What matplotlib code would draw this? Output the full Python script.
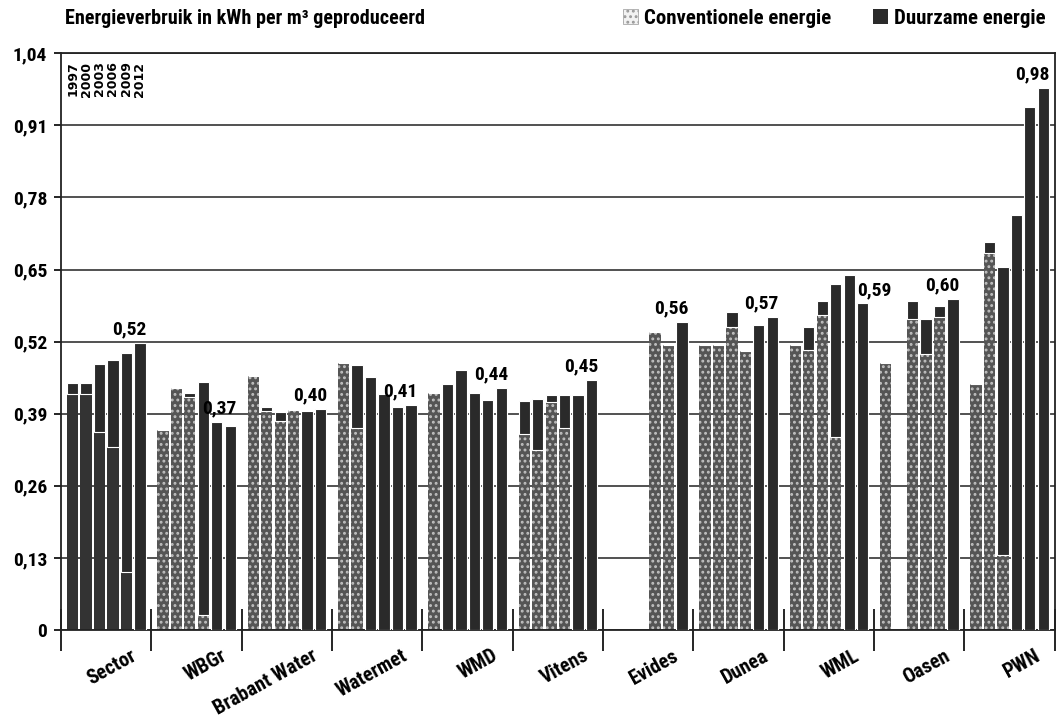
import matplotlib
matplotlib.use('Agg')
import matplotlib.pyplot as plt
from matplotlib.patches import Patch
from matplotlib import font_manager
import numpy as np

nan = np.nan

companies = ['Sector', 'WBGr', 'Brabant Water', 'Watermet', 'WMD', 'Vitens',
             'Evides', 'Dunea', 'WML', 'Oasen', 'PWN']
years = ['1997', '2000', '2003', '2006', '2009', '2012']

# kWh per m3, conventional (bottom) and renewable (top) part of each bar
conv_1997 = [0.425, 0.360, 0.458, 0.481, 0.427, 0.354, nan, 0.514, 0.514, 0.481, 0.443]
ren_1997 = [0.020, 0.0, 0.0, 0.0, 0.0, 0.059, nan, 0.0, 0.0, 0.0, 0.0]
conv_2000 = [0.425, 0.437, 0.395, 0.365, 0.0, 0.324, nan, 0.514, 0.505, nan, 0.679]
ren_2000 = [0.020, 0.0, 0.008, 0.113, 0.443, 0.092, nan, 0.0, 0.042, nan, 0.020]
conv_2003 = [0.357, 0.420, 0.377, 0.0, 0.0, 0.412, nan, 0.547, 0.568, 0.560, 0.135]
ren_2003 = [0.122, 0.007, 0.017, 0.457, 0.469, 0.012, nan, 0.027, 0.026, 0.033, 0.520]
conv_2006 = [0.330, 0.027, 0.397, 0.0, 0.0, 0.365, 0.537, 0.503, 0.348, 0.498, 0.0]
ren_2006 = [0.157, 0.420, 0.0, 0.425, 0.427, 0.059, 0.0, 0.0, 0.276, 0.062, 0.748]
conv_2009 = [0.105, 0.0, 0.0, 0.0, 0.0, 0.0, 0.514, 0.0, 0.0, 0.564, 0.0]
ren_2009 = [0.395, 0.375, 0.395, 0.403, 0.415, 0.424, 0.0, 0.550, 0.640, 0.020, 0.943]
conv_2012 = [0.0, 0.0, 0.0, 0.0, 0.0, 0.0, 0.0, 0.0, 0.0, 0.0, 0.0]
ren_2012 = [0.517, 0.368, 0.398, 0.406, 0.437, 0.451, 0.556, 0.565, 0.589, 0.597, 0.977]

labels_2012 = ['0,52', '0,37', '0,40', '0,41', '0,44', '0,45', '0,56', '0,57', '0,59', '0,60', '0,98']
label_align = ['right'] * 8 + ['left', 'right', 'right']

conv = [conv_1997, conv_2000, conv_2003, conv_2006, conv_2009, conv_2012]
ren = [ren_1997, ren_2000, ren_2003, ren_2006, ren_2009, ren_2012]

installed = {f.name for f in font_manager.fontManager.ttflist}
FONT = [f for f in ['Liberation Sans Narrow', 'DejaVu Sans Condensed', 'Roboto Condensed',
                    'Open Sans Condensed'] if f in installed] + ['DejaVu Sans']
NARROW = FONT[0] != 'DejaVu Sans'
plt.rcParams['font.family'] = FONT
plt.rcParams['font.weight'] = 'bold'
plt.rcParams['hatch.linewidth'] = 1.3
if not NARROW:
    plt.rcParams['font.stretch'] = 'condensed'

fs = 13 if NARROW else 11

DARK = '#2a2a2a'
CONV = '#555555'
SECTOR = '#333333'

fig = plt.figure(figsize=(10.58, 7.2), dpi=100)
ax = fig.add_axes([0.0577, 0.125, 0.9393, 0.801])

step = 0.149
width = 0.125
x0 = np.arange(len(companies))

for j in range(len(years)):
    x = x0 + (j - 2.5) * step
    bars = ax.bar(x, conv[j], width=width, color=CONV, edgecolor='#c0c0c0',
                  hatch='...', linewidth=0, zorder=2)
    bars[0].set_facecolor(SECTOR)
    bars[0].set_hatch(None)
    ax.bar(x, ren[j], width=width, bottom=conv[j], color=DARK,
           edgecolor='white', linewidth=0.8, zorder=3)
    # year label above the first (Sector) group
    ax.text(x[0], 1.025, years[j], rotation=90, ha='center', va='top',
            fontsize=9, fontweight='bold', family='DejaVu Sans')

# value labels for 2012
x12 = x0 + 2.5 * step
for i, lab in enumerate(labels_2012):
    top = max(ren_2012[i], ren_2009[i] if i == 1 else 0)
    if label_align[i] == 'right':
        xt = x12[i] + width / 2 + 0.01
    else:
        xt = x12[i] - width / 2
    ax.text(xt, top + 0.008, lab, ha=label_align[i], va='bottom',
            fontsize=fs + 1, fontweight='bold', zorder=5)

ax.set_ylim(0, 1.04)
ax.set_xlim(-0.5, len(companies) - 0.5)
yt = np.arange(0, 1.05, 0.13)
ax.set_yticks(yt)
ax.set_yticklabels(['0'] + [('%.2f' % v).replace('.', ',') for v in yt[1:]], fontsize=fs + 1)
ax.yaxis.grid(True, color='#333333', linewidth=1.2, zorder=0)
ax.set_axisbelow(True)
ax.tick_params(axis='y', length=5, width=1.2, pad=5)

ax.set_xticks(np.arange(-0.5, len(companies), 1.0))
ax.set_xticklabels([])
ax.tick_params(axis='x', direction='inout', length=30, width=1.2)

for i, name in enumerate(companies):
    ax.text(i + 0.27, -0.028, name, transform=ax.get_xaxis_transform(),
            ha='right', va='top', rotation=29, rotation_mode='anchor',
            fontsize=fs + 1.5, fontweight='bold')

for s in ax.spines.values():
    s.set_linewidth(1.3)
    s.set_color('#222222')

fig.text(0.061, 0.975, 'Energieverbruik in kWh per m\u00b3 geproduceerd',
         fontsize=fs + 1.5, fontweight='bold', va='center', ha='left')

handles = [Patch(facecolor='#f2f2f2', edgecolor='#999999', hatch='...', linewidth=0.5,
                 label='Conventionele energie'),
           Patch(facecolor=DARK, label='Duurzame energie')]
fig.legend(handles=handles, loc='center right', bbox_to_anchor=(1.0, 0.975), ncol=2,
           frameon=False, fontsize=fs + 2, handlelength=0.7, handleheight=0.7,
           handletextpad=0.3, columnspacing=2.0, borderaxespad=0.2)

fig.savefig('out.png', dpi=100, facecolor='white')
